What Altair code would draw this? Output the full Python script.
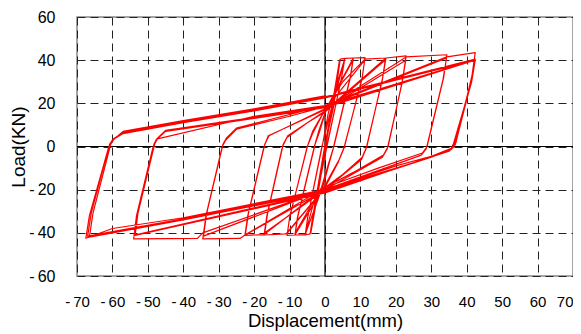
import altair as alt
import pandas as pd

# Hysteresis path, read level by level (displacement mm, load kN)
lv1_x = [0, 2.0, 4.3, 3.7, 0.6, -1.6, -4.2, -3.6, -0.4, 1.8, 4.1, 3.5, 0.5, -1.7, -4.0, -3.4, -0.3]
lv1_y = [0, 18, 40.5, 34, 4, -18, -40.5, -34, -3, 17, 40, 33, 3, -19, -40, -33, -2]

lv2_x = [-0.3, 2.5, 4.3, 5.6, 4.8, 1.2, -1.0, -4.2, -5.6, -4.9, -1.0, 1.2, 5.5, 4.7, 1.0, -1.2, -5.5, -4.8, -0.8]
lv2_y = [-2, 19, 40.5, 40.8, 33, 5, -12, -40.5, -41, -33, -1, 14, 40, 32, 4, -14, -40, -32, 0]

lv3_x = [-0.8, 1.0, 5.6, 8.0, 7.3, 2.5, 1.3, -0.5, -5.6, -8.5, -7.8, -3.0, -1.8, 0.5, 7.9, 7.1, 2.3, 1.0, -1.0, -8.4, -7.6, -2.8]
lv3_y = [0, 16, 40.8, 41, 33, 0, -7, -18, -40.8, -41, -33, 0, 7, 18, 40, 32, -1, -8, -19, -40, -32, 1]

lv4_x = [-2.8, -1.5, 0.5, 8.0, 11.3, 10.5, 5.5, 4.0, 0, -8.5, -10.7, -10.0, -5.0, -3.5, 0, 11.2, 10.4, 5.3, 3.8, 0, -10.6, -9.9, -4.8]
lv4_y = [1, 7, 18, 41, 41.2, 32, 0, -6, -18, -41, -41.2, -33, 0, 6, 17, 40, 31, -1, -7, -19, -40, -32, 1]

lv5_x = [-4.8, -3.5, 0, 5.0, 11.3, 17.2, 16.3, 11.8, 10.5, 5.0, 0, -11.0, -17.2, -16.4, -12.0, -10.8, -5.0, 0,
         17.0, 16.2, 11.6, 10.3, 0, -17.0, -16.2, -11.8]
lv5_y = [1, 7, 17, 30, 40.5, 41, 32, 0, -5, -13, -19, -40.5, -41, -32, 0, 4, 11, 16,
         40, 31, -1, -6, -20, -40, -31, 1]

lv6_x = [-11.8, -10.5, 0, 17.2, 22.9, 21.8, 17.8, 16.5, 8.0, 0, -17.2, -22.6, -21.8, -17.2, -16.0, -8.0, 0,
         22.8, 21.7, 17.6, 16.2, 0, -22.5, -21.6, -17.0, -15.8, 0]
lv6_y = [1, 5, 16.5, 41, 42, 30, 0, -4, -12, -19, -40.8, -41.2, -32, 0, 5, 11, 17,
         40, 29, -1, -5, -20, -41, -31, 1, 5, 17.5]

lv7_x = [0, 22.9, 34.4, 33.5, 28.8, 27.5, 15.0, 0, -22.6, -24.0, -34.5, -33.6, -29.0, -28.0, -25.0, -10.0, 0,
         34.3, 33.3, 28.6, 27.2, 0, -34.3, -33.4, -28.8, -27.8, -25.0, 0]
lv7_y = [17.5, 41.5, 42.5, 32, 0, -3, -10, -19, -41, -42.6, -42.8, -32, 0, 3, 8, 14, 18.5,
         41, 31, -1, -4, -20, -41.5, -31, 1, 4, 8.5, 19]

lv8_x = [0, 34.4, 42.4, 41.5, 37.0, 36.2, 30.0, 20.0, 0, -34.5, -36.0, -54.0, -53.2, -48.5, -47.7, -45.0, -20.0, 0,
         42.3, 41.3, 36.8, 35.8, 30.0, 0, -53.8, -53.0, -48.3, -47.5, -45.0, -20.0, 0,
         42.2, 41.2, 36.6, 35.6, 0, -53.6, -52.8, -48.1, -47.3, -20.0, 0, 42.2]
lv8_y = [19, 41.5, 43.5, 33, 2, -0.5, -4.5, -9, -20, -40, -42.6, -42.8, -32, 0, 3, 7, 13, 18,
         40, 30, 1, -1, -5, -21, -41, -31, 1, 3.5, 7.5, 13.5, 18.5,
         40, 30, 1, -1.5, -21.5, -41.2, -31, 1, 3.5, 14, 19, 40]

lv9_x = [42.2, 41.2, 36.5, 35.5, 30.0, 0, -40.0, -60.0, -67.5, -66.5, -61.0, -60.0, -57.0, -40.0, -20.0, 0,
         42.4, 41.4, 36.4, 35.4, 30.0, 0, -40.0, -67.0, -66.0, -60.8, -59.8, -57.0, -40.0, -20.0, 0,
         42.4, 41.4, 36.2, 35.2, 0, -40.0, -66.5, -65.5, -60.5, -59.5, -57.0, -40.0, -20.0, 0]
lv9_y = [40, 30, 1, -1.5, -5, -20, -33, -38, -42.5, -32, 0, 3, 6, 11, 16.5, 22.5,
         40, 30, 1, -1.5, -5, -20.5, -33.5, -41.5, -31, 1, 3.5, 6.5, 11.5, 17, 23,
         40.5, 30, 1, -2, -21, -34, -42, -31, 1, 3.5, 7, 12, 17.5, 23.5]

x_ticks = [-70, -60, -50, -40, -30, -20, -10, 0, 10, 20, 30, 40, 50, 60, 70]
y_ticks = [-60, -40, -20, 0, 20, 40, 60]

levels = [(lv1_x, lv1_y), (lv2_x, lv2_y), (lv3_x, lv3_y), (lv4_x, lv4_y), (lv5_x, lv5_y),
          (lv6_x, lv6_y), (lv7_x, lv7_y), (lv8_x, lv8_y), (lv9_x, lv9_y)]
xs, ys = [], []
for lx, ly in levels:
    xs += lx
    ys += ly
df = pd.DataFrame({"d": xs, "f": ys, "i": list(range(len(xs)))})

FONT = "Liberation Sans"
label_expr = "datum.value < 0 ? '-\u2009' + abs(datum.value) : '' + datum.value"

xs_scale = alt.Scale(domain=[-70, 70], nice=False, zero=False)
ys_scale = alt.Scale(domain=[-60, 60], nice=False, zero=False)

x_axis = alt.Axis(values=x_ticks, labelExpr=label_expr, grid=True, gridDash=[8, 5], gridColor="#222",
                  gridWidth=1, domain=False, ticks=False, labelPadding=18, labelFontSize=15,
                  labelOverlap=False, labelFlush=False,
                  labelAlign={"condition": {"test": "datum.value == 70", "value": "right"}, "value": "center"},
                  labelFont=FONT, labelColor="#000", title="Displacement(mm)", titleFont=FONT,
                  titleFontSize=18.5, titleFontWeight="normal", titleColor="#000", titlePadding=2)
y_axis = alt.Axis(values=y_ticks, labelExpr=label_expr, grid=True, gridDash=[8, 5], gridColor="#222",
                  gridWidth=1, domain=False, ticks=False, labelPadding=22, labelFontSize=16,
                  labelOverlap=False, labelFlush=False,
                  labelFont=FONT, labelColor="#000", title="Load(KN)", titleFont=FONT,
                  titleFontSize=19, titleFontWeight="normal", titleColor="#000",
                  titleX=-49, titleY=129.5)

base = alt.Chart(df).mark_line(color="#ff0000", strokeWidth=1.2, strokeJoin="round").encode(
    x=alt.X("d:Q", scale=xs_scale, axis=x_axis),
    y=alt.Y("f:Q", scale=ys_scale, axis=y_axis),
    order="i:Q",
)

zero_df = pd.DataFrame({"v": [0]})
vrule = alt.Chart(zero_df).mark_rule(color="#000", strokeWidth=1.2).encode(
    x=alt.X("v:Q", scale=xs_scale, axis=x_axis))
hrule = alt.Chart(zero_df).mark_rule(color="#000", strokeWidth=1.2).encode(
    y=alt.Y("v:Q", scale=ys_scale, axis=y_axis))

chart = alt.layer(vrule, hrule, base).properties(
    width=496, height=259,
    autosize=alt.AutoSizeParams(type="none"),
    padding={"left": 69, "top": 9, "right": 0, "bottom": 57},
).configure_view(stroke="#888", strokeWidth=1.5).configure_axis(labelOverlap=False)

chart.save("out.html", embed_options={"renderer": "svg", "actions": False})
